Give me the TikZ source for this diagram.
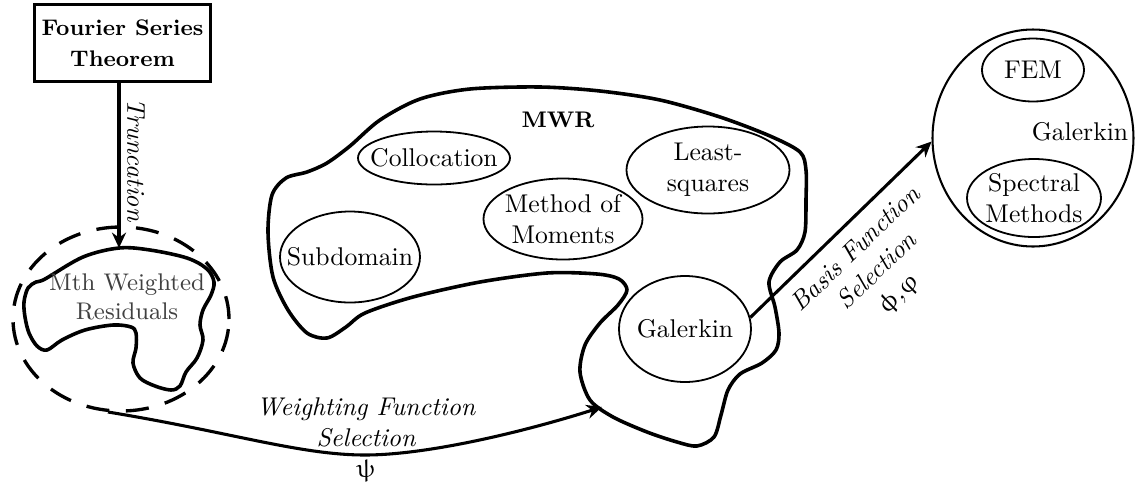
\documentclass[tikz,border=0pt]{standalone}
\usepackage{upgreek}
\usetikzlibrary{shapes.geometric,arrows.meta}
\begin{document}
\begin{tikzpicture}[x=0.39pt,y=-0.39pt,
  blobline/.style={line width=1.4pt, line join=round},
  oval/.style 2 args={draw, ellipse, line width=0.7pt, inner sep=0pt,
    minimum width=#1*0.39pt, minimum height=#2*0.39pt},
  arr/.style={line width=1.2pt, -{Stealth[length=6pt,width=5.5pt]}},
  lbl/.style={align=center, font=\itshape},
  txt/.style={align=center},
]
\useasboundingbox (0,0) rectangle (1135,482);

% Fourier box
\node[draw, line width=1.2pt, minimum width=176*0.39pt, minimum height=77*0.39pt,
      align=center, font=\fontsize{8.8}{12}\selectfont\bfseries, inner sep=0pt] (fst) at (122.5,43) {Fourier Series\\Theorem};

% dashed ring and Mth WR blob
\node[draw, ellipse, line width=1.3pt, dash pattern=on 9pt off 6.5pt,
      minimum width=216*0.39pt, minimum height=184*0.39pt] (ring) at (121,319) {};
\draw[blobline] plot[smooth cycle, tension=0.55] coordinates {
 (24,302) (28,288) (36,282) (45,279) (83,257) (119,248) (150,250) (187,258)
 (207,269) (214,282) (211,295) (203,310) (200,325) (203,340) (197,358) (186,372)
 (180,386) (171,390) (155,386) (140,378) (133,363) (136,348) (136,333) (131,327)
 (113,325) (85,330) (62,340) (47,350) (37,346) (29,333) (25,317)};
\node[txt, text=black!75, font=\fontsize{9.4}{11.5}\selectfont] (mthtext) at (127,297) {Mth Weighted\\Residuals};
\coordinate (mthtop) at (119,248);

% Truncation
\draw[arr] (fst.south -| mthtop) -- (mthtop);
\node[font=\itshape, rotate=-90] (trunc) at (136,160) {Truncation};

% MWR blob
\draw[blobline] plot[smooth cycle, tension=0.5] coordinates {
 (268,232) (272,195) (286,178) (307,172) (327,163) (350,146) (380,120) (420,99)
 (470,89) (540,87) (600,91) (660,100) (720,117) (770,136) (800,152) (806,170)
 (806,200) (805,232) (797,250) (780,262) (769,282) (775,307) (779,333) (776,350)
 (762,363) (740,374) (728,390) (721,415) (714,437) (697,446) (677,442) (647,432)
 (613,417) (590,400) (580,372) (585,345) (600,323) (618,305) (627,290) (619,279)
 (597,274) (547,273) (480,282) (413,297) (365,313) (346,327) (327,338) (307,333)
 (288,310) (273,277)};
\node[font=\fontsize{8.8}{11}\selectfont\bfseries] (mwr) at (558,120) {MWR};
\node[oval={152}{53}, label={[txt]center:Collocation}] (coll) at (434,158) {};
\node[oval={140}{91}, label={[txt]center:Subdomain}] (subd) at (350,257) {};
\node[oval={159}{81}, label={[txt]center:Method of\\Moments}] (mom) at (563,219) {};
\node[oval={163}{87}, label={[txt]center:Least-\\squares}] (lsq) at (708,170) {};
\node[oval={132}{106}, label={[txt]center:Galerkin}] (gal) at (685,329) {};

% right Galerkin circle
\node[draw, ellipse, line width=0.8pt, inner sep=0pt,
      minimum width=201*0.39pt, minimum height=217*0.39pt] (gc) at (1033,138) {};
\node[oval={102}{63}, label={[txt]center:FEM}] (fem) at (1033,70) {};
\node[oval={134}{78}, label={[txt]center:Spectral\\Methods}] (spec) at (1034,198) {};
\node[txt] (gctext) at (1080,132) {Galerkin};

% Basis function arrow
\draw[arr] (gal.10) -- (gc.182);
\node[lbl, rotate=44] (bflabel) at (878,272) {Basis Function\\Selection\\$\upphi$,$\upvarphi$};

% Weighting function arrow
\coordinate (wfend) at (602,407);
\draw[arr] (ring.262) .. controls (230,432) and (300,455) .. (365,455)
  .. controls (430,455) and (530,430) .. (wfend);
\node[lbl] (wflabel) at (366,440) {Weighting Function\\Selection\\$\uppsi$};
\end{tikzpicture}
\end{document}
